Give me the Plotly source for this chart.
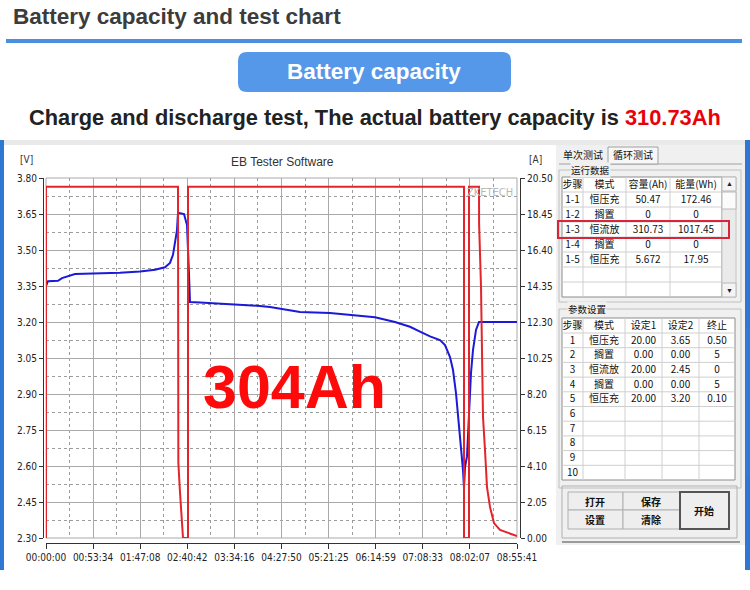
import plotly.graph_objects as go

# ---- data ----
tick_labels = ["00:00:00", "00:53:34", "01:47:08", "02:40:42", "03:34:16", "04:27:50",
               "05:21:25", "06:14:59", "07:08:33", "08:02:07", "08:55:41"]
volt_ticks = [2.30, 2.45, 2.60, 2.75, 2.90, 3.05, 3.20, 3.35, 3.50, 3.65, 3.80]
amp_ticks = [0.00, 2.05, 4.10, 6.15, 8.20, 10.25, 12.30, 14.35, 16.40, 18.45, 20.50]

# voltage (blue, left axis)
v_time = ["00:00:00", "00:02:16", "00:13:39", "00:18:12", "00:32:59", "01:01:25", "01:24:10",
          "01:46:55", "02:03:58", "02:15:21", "02:21:02", "02:24:26", "02:26:43", "02:28:59",
          "02:30:08", "02:31:16", "02:36:57", "02:40:22", "02:42:38", "02:43:47", "02:55:09",
          "03:29:16", "04:03:23", "04:14:46", "04:48:53", "05:23:00", "05:45:45", "06:14:11",
          "06:36:56", "06:53:59", "07:05:22", "07:16:44", "07:28:07", "07:33:48", "07:39:29",
          "07:42:54", "07:46:18", "07:50:51", "07:53:08", "07:54:16", "07:55:24", "07:56:33",
          "07:58:49", "08:01:05", "08:03:22", "08:05:38", "08:09:03", "08:12:28", "08:55:41"]
v_vals = [3.35, 3.37, 3.372, 3.383, 3.40, 3.402, 3.405,
          3.41, 3.418, 3.428, 3.446, 3.48, 3.53, 3.583,
          3.654, 3.654, 3.65, 3.604, 3.40, 3.283, 3.281,
          3.275, 3.267, 3.2625, 3.242, 3.237, 3.23, 3.22,
          3.20, 3.18, 3.16, 3.14, 3.125, 3.104, 3.054,
          3.00, 2.904, 2.72, 2.6375, 2.583, 2.508, 2.596,
          2.64, 2.846, 2.9875, 3.083, 3.167, 3.20, 3.20]

# current (red, right axis)
i_time = ["00:00:00", "00:00:00", "02:30:08", "02:30:30", "02:32:24", "02:34:41", "02:35:49",
          "02:41:30", "02:41:30", "07:55:24", "07:55:24", "08:01:05", "08:01:05", "08:12:28",
          "08:12:35", "08:14:45", "08:15:53", "08:17:01", "08:19:18", "08:21:34", "08:24:58",
          "08:29:31", "08:36:21", "08:45:27", "08:55:41"]
i_vals = [0, 20.0, 20.0, 4.3, 2.6, 1.0, 0,
          0, 20.0, 20.0, 0, 0, 20.0, 20.0,
          17.9, 14.3, 9.0, 6.9, 5.0, 2.9, 1.77,
          0.85, 0.46, 0.28, 0.11]

# run data table
run_cols = ["步骤", "模式", "容量(Ah)", "能量(Wh)"]
run_step = ["1-1", "1-2", "1-3", "1-4", "1-5", "", ""]
run_mode = ["恒压充", "搁置", "恒流放", "搁置", "恒压充", "", ""]
run_cap = ["50.47", "0", "310.73", "0", "5.672", "", ""]
run_energy = ["172.46", "0", "1017.45", "0", "17.95", "", ""]

# parameter table
par_cols = ["步骤", "模式", "设定1", "设定2", "终止"]
par_step = ["1", "2", "3", "4", "5", "6", "7", "8", "9", "10"]
par_mode = ["恒压充", "搁置", "恒流放", "搁置", "恒压充", "", "", "", "", ""]
par_set1 = ["20.00", "0.00", "20.00", "0.00", "20.00", "", "", "", "", ""]
par_set2 = ["3.65", "0.00", "2.45", "0.00", "3.20", "", "", "", "", ""]
par_end = ["0.50", "5", "0", "5", "0.10", "", "", "", "", ""]

W, H = 750, 590
FONT = "Liberation Sans, Arial, sans-serif"
NARROW = "Liberation Sans Narrow, DejaVu Sans Condensed, Arial Narrow, sans-serif"
CJK = "Liberation Sans Narrow, Noto Sans CJK SC, sans-serif"
TXT_SHIFT = 5  # plotly puts table text low in short rows, so lift the table a bit


def hrs(s):
    h, m, sec = (int(p) for p in s.split(":"))
    return h + m / 60 + sec / 3600


def px(x):
    return x / W


def py(y):
    return 1 - y / H


x_ticks = [hrs(t) for t in tick_labels]
x_minor = [(a + b) / 2 for a, b in zip(x_ticks[:-1], x_ticks[1:])]
v_minor = [(a + b) / 2 for a, b in zip(volt_ticks[:-1], volt_ticks[1:])]

fig = go.Figure()

fig.add_trace(go.Scatter(x=[hrs(t) for t in v_time], y=v_vals, mode="lines",
                         line=dict(color="#1a1ad8", width=2), yaxis="y",
                         showlegend=False, hoverinfo="skip"))
fig.add_trace(go.Scatter(x=[hrs(t) for t in i_time], y=i_vals, mode="lines",
                         line=dict(color="#e3242b", width=2), yaxis="y2",
                         showlegend=False, hoverinfo="skip"))

shapes = []


def rect(x0, y0, x1, y1, fill=None, line="#a0a0a0", lw=1, layer="below"):
    shapes.append(dict(type="rect", xref="paper", yref="paper",
                       x0=px(x0), x1=px(x1), y0=py(y1), y1=py(y0),
                       fillcolor=fill if fill else "rgba(0,0,0,0)",
                       line=dict(color=line, width=lw) if lw else dict(width=0),
                       layer=layer))


def hline(x0, x1, y, color, lw=1, layer="below"):
    shapes.append(dict(type="line", xref="paper", yref="paper",
                       x0=px(x0), x1=px(x1), y0=py(y), y1=py(y),
                       line=dict(color=color, width=lw), layer=layer))


def vline(x, y0, y1, color, lw=1, layer="below"):
    shapes.append(dict(type="line", xref="paper", yref="paper",
                       x0=px(x), x1=px(x), y0=py(y0), y1=py(y1),
                       line=dict(color=color, width=lw), layer=layer))


def add_table(cols, columns, left, top, widths, head_h, row_h):
    right = left + sum(widths)
    bottom = top + head_h + row_h * len(columns[0])
    # white grid drawn underneath, the table itself only carries the text
    rect(left, top, right, bottom, fill="white", line="#8c8c8c")
    x = left
    for w in widths[:-1]:
        x += w
        vline(x, top, bottom, "#cfcfcf")
    y = top + head_h
    for _ in columns[0]:
        hline(left, right, y, "#cfcfcf")
        y += row_h
    fig.add_trace(go.Table(
        domain=dict(x=[px(left), px(right)],
                    y=[py(bottom - TXT_SHIFT + 1), py(top - TXT_SHIFT)]),
        columnwidth=widths,
        header=dict(values=cols, height=head_h, fill_color="rgba(0,0,0,0)",
                    line=dict(color="rgba(0,0,0,0)", width=0),
                    font=dict(family=CJK, size=10, color="#111"), align="center"),
        cells=dict(values=columns, height=row_h, fill_color="rgba(0,0,0,0)",
                   line=dict(color="rgba(0,0,0,0)", width=0),
                   font=dict(family=CJK, size=10, color="#111"), align="center"),
    ))


axis_font = dict(family=NARROW, size=10, color="#222")
grid_c = "#a9a9a9"

fig.update_layout(
    width=W, height=H,
    margin=dict(l=0, r=0, t=0, b=0),
    paper_bgcolor="white", plot_bgcolor="white",
    xaxis=dict(domain=[px(46), px(517)], range=[0, x_ticks[-1]], automargin=False,
               tickmode="array", tickvals=x_ticks, ticktext=tick_labels,
               showgrid=True, gridcolor=grid_c, gridwidth=1, zeroline=False,
               minor=dict(tickvals=x_minor, showgrid=True, gridcolor="#9c9c9c",
                          griddash="dot", ticks=""),
               showline=True, linecolor="#333", linewidth=1,
               anchor="free", position=py(543),
               ticks="outside", ticklen=5, tickcolor="#333", tickfont=axis_font),
    yaxis=dict(domain=[py(538), py(178)], range=[volt_ticks[0], volt_ticks[-1]],
               automargin=False, tickmode="array", tickvals=volt_ticks,
               ticktext=[f"{v:.2f}" for v in volt_ticks],
               showgrid=True, gridcolor=grid_c, gridwidth=1, zeroline=False,
               minor=dict(tickvals=v_minor, showgrid=True, gridcolor="#9c9c9c",
                          griddash="dot", ticks=""),
               showline=True, linecolor="#333", linewidth=1,
               anchor="free", position=px(43),
               ticks="outside", ticklen=4, tickcolor="#333", tickfont=axis_font),
    yaxis2=dict(overlaying="y", side="right", range=[amp_ticks[0], amp_ticks[-1]],
                automargin=False, tickmode="array", tickvals=amp_ticks,
                ticktext=[f"{v:.2f}" for v in amp_ticks],
                showgrid=False, zeroline=False,
                showline=True, linecolor="#333", linewidth=1,
                anchor="free", position=px(520),
                ticks="outside", ticklen=4, tickcolor="#333", tickfont=axis_font),
)

# header bar + rounded button
hline(6, 742, 41, "#4a8fe0", 4)
bx0, by0, bx1, by1, r = 238, 52, 511, 92, 9
shapes.append(dict(
    type="path", xref="paper", yref="paper", fillcolor="#5597e8", line=dict(width=0),
    path=(f"M {px(bx0 + r)},{py(by0)} L {px(bx1 - r)},{py(by0)} "
          f"Q {px(bx1)},{py(by0)} {px(bx1)},{py(by0 + r)} L {px(bx1)},{py(by1 - r)} "
          f"Q {px(bx1)},{py(by1)} {px(bx1 - r)},{py(by1)} L {px(bx0 + r)},{py(by1)} "
          f"Q {px(bx0)},{py(by1)} {px(bx0)},{py(by1 - r)} L {px(bx0)},{py(by0 + r)} "
          f"Q {px(bx0)},{py(by0)} {px(bx0 + r)},{py(by0)} Z")))

# screenshot frame
rect(0, 140, 750, 145, fill="#e9e9e9", lw=0)
rect(0, 140, 4, 570, fill="#2e78d4", lw=0)
rect(745, 140, 750, 570, fill="#2e78d4", lw=0)
rect(556, 145, 745, 545, fill="#f0f0f0", lw=0)
# plot box
shapes.append(dict(type="rect", xref="x domain", yref="y domain", x0=0, x1=1, y0=0, y1=1,
                   line=dict(color=grid_c, width=1), layer="below"))

# tabs
hline(559, 742, 164, "#a0a0a0")
rect(608, 147, 658, 164, fill="#f7f7f7", line="#a0a0a0")
# group boxes
rect(559, 170, 741, 302, line="#c0c0c0")
rect(559, 309, 741, 488, line="#c0c0c0")
rect(562, 486, 737, 538, line="#b0b0b0")
hline(562, 740, 542, "#9a9a9a", 2)

add_table(run_cols, [run_step, run_mode, run_cap, run_energy],
          562, 177, [21, 43, 44, 52], 15, 15)
add_table(par_cols, [par_step, par_mode, par_set1, par_set2, par_end],
          562, 318, [21, 42, 37, 37, 36], 15, 14.7)

# scrollbar
rect(722, 177, 736, 297, fill="#eaeaea", line="#c4c4c4", layer="above")
rect(722, 177, 736, 191, fill="#f4f4f4", line="#b8b8b8", layer="above")
rect(722, 283, 736, 297, fill="#f4f4f4", line="#b8b8b8", layer="above")
rect(722, 192, 736, 209, fill="#fbfbfb", line="#b8b8b8", layer="above")
# highlight on the 1-3 row
rect(558, 221, 729, 238, line="#d9253a", lw=2, layer="above")
# buttons
for x0, y0, x1, y1 in [(568, 492, 623, 510), (568, 510, 623, 529),
                       (623, 492, 680, 510), (623, 510, 680, 529)]:
    rect(x0, y0, x1, y1, fill="#eeeeee", line="#b0b0b0")
rect(680, 492, 729, 529, fill="#eeeeee", line="#555", lw=2)

annotations = []


def text(x, y, s, size, color="#222", family=FONT, xanchor="center", bold=False, bg=None):
    annotations.append(dict(x=px(x), y=py(y), xref="paper", yref="paper", text=s,
                            showarrow=False, xanchor=xanchor, yanchor="middle",
                            bgcolor=bg, borderpad=0,
                            font=dict(family=family, size=size, color=color,
                                      weight="bold" if bold else "normal")))


text(12, 17, "Battery capacity and test chart", 22.5, "#3c3c3c", xanchor="left", bold=True)
text(374, 71, "Battery capacity", 22.5, "white", bold=True)
text(375, 118, "Charge and discharge test, The actual battery capacity is "
     "<span style='color:#e8000b'>310.73Ah</span>", 21.8, "#222", bold=True)

text(282, 162, "EB Tester Software", 12, "#333")
text(27, 160, "[V]", 10, "#333", NARROW)
text(535, 160, "[A]", 10, "#333", NARROW)
text(490, 192, "ZKETECH", 11, "#b9b9b9", NARROW)
text(294, 387, "304Ah", 61, "#ff0a0a", bold=True)

text(583, 154.5, "单次测试", 10, "#111", CJK)
text(633, 154.5, "循环测试", 10, "#111", CJK)
text(590, 169.5, "运行数据", 9.5, "#111", CJK, bg="#f0f0f0")
text(587, 309, "参数设置", 9.5, "#111", CJK, bg="#f0f0f0")
text(729, 184, "▲", 7, "#222")
text(729, 290, "▼", 7, "#222")
text(595, 501, "打开", 10, "#111", CJK, bold=True)
text(595, 519, "设置", 10, "#111", CJK, bold=True)
text(651, 501, "保存", 10, "#111", CJK, bold=True)
text(651, 519, "清除", 10, "#111", CJK, bold=True)
text(704, 510, "开始", 10, "#111", CJK, bold=True)

fig.update_layout(shapes=shapes, annotations=annotations)

# the page is photographed at exactly the figure size, so drop the body margin
fig.write_html("out.html", config={"displayModeBar": False},
               post_script="document.body.style.margin='0';"
                           "document.body.style.overflow='hidden';")
